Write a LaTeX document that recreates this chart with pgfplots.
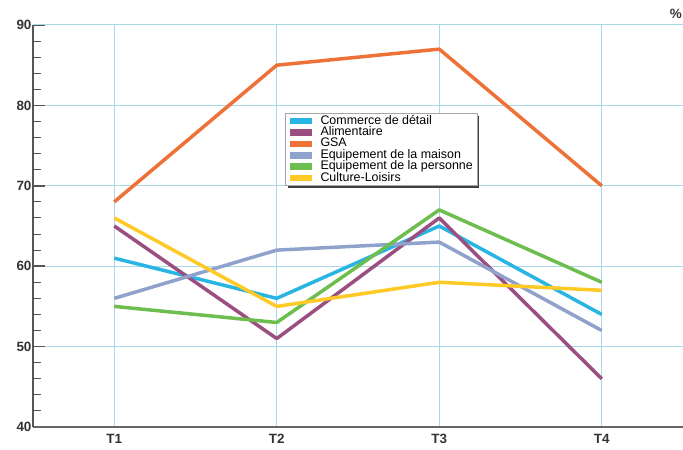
\documentclass[border=0pt]{standalone}
\usepackage{pgfplots}
\pgfplotsset{compat=1.18}
\usepackage{fontspec}
\setmainfont{Liberation Sans}
\usetikzlibrary{shadows}
\definecolor{cCom}{HTML}{29B5E4}
\definecolor{cAli}{HTML}{9A4F80}
\definecolor{cGSA}{HTML}{EE7238}
\definecolor{cMai}{HTML}{8FA2CB}
\definecolor{cPer}{HTML}{6DBD4F}
\definecolor{cCul}{HTML}{FFC926}
\definecolor{gridc}{HTML}{A9D9E9}
\definecolor{axc}{HTML}{555555}
\newcommand\legimg[1]{\pgfsetfillcolor{#1}\pgfpathrectangle{\pgfpoint{0bp}{-3.3bp}}{\pgfpoint{22bp}{6.6bp}}\pgfusepath{fill}\pgfpathrectangle{\pgfpoint{0bp}{-3.3bp}}{\pgfpoint{31bp}{6.6bp}}\pgfusepath{}}
\begin{document}
\begin{tikzpicture}
\begin{axis}[
  scale only axis,
  width=650bp, height=402bp,
  xmin=0.5, xmax=4.5, ymin=40, ymax=90,
  xtick={1,2,3,4}, xticklabels={T1,T2,T3,T4},
  ytick={40,50,...,90},
  minor y tick num=4,
  axis x line*=bottom, axis y line*=left,
  axis line style={axc, line width=1.5bp},
  x axis line style={draw=gray!80!black, line width=1.2bp},
  tick align=inside,
  major tick length=12bp, minor tick length=8bp,
  y tick style={axc, line width=1.5bp},
  minor y tick style={axc, line width=1bp},
  x tick style={draw=none},
  ymajorgrids, xmajorgrids,
  major grid style={gridc, line width=1bp},
  extra y ticks={90}, extra y tick labels={},
  extra y tick style={grid style={gray, line width=1bp}, major tick length=0pt},
  ticklabel style={font=\fontsize{13.5}{13.5}\selectfont\bfseries, text=black!80},
  /pgf/number format/assume math mode=true,
  xticklabel style={yshift=-4bp},
  yticklabel style={xshift=2bp},
  clip=false,
  every axis plot/.append style={line width=3.5bp, line join=round},
  legend style={at={(0.388,0.781)}, anchor=north west,
    draw=gray!70, line width=0.6bp, fill=white,
    drop shadow={shadow xshift=2.5bp, shadow yshift=-2.5bp, fill=black!75, opacity=1},
    font=\fontsize{12.5}{12.5}\selectfont,
    nodes={inner sep=0pt, text height=8.8bp, text depth=2.6bp, anchor=west},
    inner xsep=4bp, inner ysep=2bp},
  legend cell align=left,
]
\addplot[cCom, legend image code/.code={\legimg{cCom}}] coordinates {(1,61) (2,56) (3,65) (4,54)};
\addlegendentry{Commerce de détail}
\addplot[cAli, legend image code/.code={\legimg{cAli}}] coordinates {(1,65) (2,51) (3,66) (4,46)};
\addlegendentry{Alimentaire}
\addplot[cGSA, legend image code/.code={\legimg{cGSA}}] coordinates {(1,68) (2,85) (3,87) (4,70)};
\addlegendentry{GSA}
\addplot[cMai, legend image code/.code={\legimg{cMai}}] coordinates {(1,56) (2,62) (3,63) (4,52)};
\addlegendentry{Equipement de la maison}
\addplot[cPer, legend image code/.code={\legimg{cPer}}] coordinates {(1,55) (2,53) (3,67) (4,58)};
\addlegendentry{Equipement de la personne}
\addplot[cCul, legend image code/.code={\legimg{cCul}}] coordinates {(1,66) (2,55) (3,58) (4,57)};
\addlegendentry{Culture-Loisirs}
\node[anchor=south east, font=\fontsize{13.5}{13.5}\selectfont\bfseries, text=black!80, inner sep=0pt] at (rel axis cs:1,1) [yshift=6bp, xshift=-1bp] {\%};
\coordinate (SW) at (rel axis cs:0,0);
\coordinate (NE) at (rel axis cs:1,1);
\end{axis}
\pgfresetboundingbox
\path[use as bounding box] ([xshift=-33bp,yshift=-23bp]SW) rectangle ([yshift=25bp]NE);
\end{tikzpicture}
\end{document}
